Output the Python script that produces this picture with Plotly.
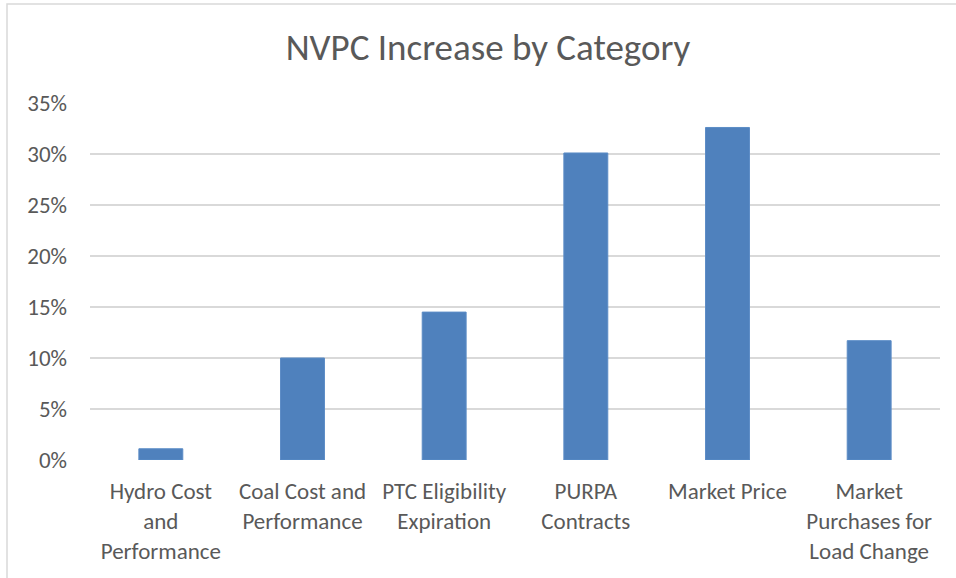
import plotly.graph_objects as go

categories = [
    "Hydro Cost<br>and<br>Performance",
    "Coal Cost and<br>Performance",
    "PTC Eligibility<br>Expiration",
    "PURPA<br>Contracts",
    "Market Price",
    "Market<br>Purchases for<br>Load Change",
]
increase = [0.011, 0.100, 0.145, 0.301, 0.326, 0.117]
y_ticks = [0, 0.05, 0.10, 0.15, 0.20, 0.25, 0.30, 0.35]

font_family = "Carlito, Calibri, 'Liberation Sans Narrow', 'Open Sans', sans-serif"
text_color = "#595959"
grid_color = "#d9d9d9"

figure = go.Figure()
figure.add_trace(go.Bar(x=categories, y=increase,
                        marker=dict(color="#4f81bd", line=dict(color="#5b8cc6", width=1)),
                        hoverinfo="skip"))

figure.update_layout(
    width=956, height=578,
    margin=dict(l=90, r=16, t=103, b=118),
    paper_bgcolor="white", plot_bgcolor="white",
    bargap=0.69, showlegend=False,
    font=dict(family=font_family, size=23, color=text_color),
    title=dict(text="NVPC Increase by Category", x=488 / 956, xanchor="center",
               y=1 - 47 / 578, yanchor="middle",
               font=dict(family=font_family, size=37, color=text_color)),
)

figure.update_yaxes(range=[0, 0.35], tickvals=y_ticks, tickformat=".0%",
                    showgrid=True, gridcolor=grid_color, gridwidth=1.5,
                    zeroline=False, showline=False, ticks="", ticklabelstandoff=22,
                    tickfont=dict(size=23, color=text_color))
figure.update_xaxes(showgrid=False, showline=False, ticks="", ticklabelstandoff=15,
                    tickfont=dict(size=23, color=text_color))

# Light border around the chart area
figure.add_shape(type="rect", xref="paper", yref="paper",
                 x0=(7 - 90) / 850, x1=(962 - 90) / 850,
                 y0=(460 - 590) / 357, y1=(460 - 4) / 357,
                 line=dict(color=grid_color, width=1.5), layer="below")

# Drop the page margin so the figure sits at the window's top-left corner
figure.write_html("out.html", config={"displayModeBar": False},
                  post_script="document.body.style.margin = '0';")
